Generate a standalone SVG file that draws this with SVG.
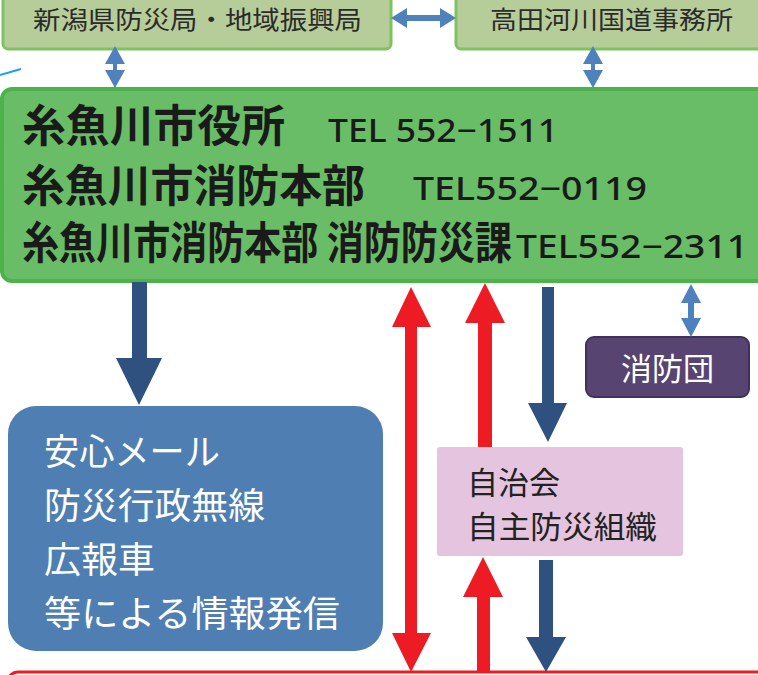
<svg xmlns="http://www.w3.org/2000/svg" width="758" height="675" viewBox="0 0 758 675">
<style>
.cjk{font-family:"Noto Sans CJK JP","Noto Sans",sans-serif}
.top{fill:#b6cd99;stroke:#7dc45f;stroke-width:3}
.toptxt{font-size:25px;fill:#2b2b2b}
.main{font-size:44px;font-weight:bold;fill:#1a1a1a}
.tel{font-size:32px;fill:#1a1a1a;font-family:"Noto Sans","DejaVu Sans",sans-serif;font-weight:500}
.wt{fill:#ffffff}
.navy{fill:#2f5180}
.red{fill:#ed1c24}
.lb{fill:#4f81bd}
</style>
<rect width="758" height="675" fill="#ffffff"/>
<g id="pref">
<rect class="top" x="3" y="-10" width="388" height="59" rx="5"/>
<text class="cjk toptxt" x="33" y="29" textLength="329" lengthAdjust="spacingAndGlyphs">新潟県防災局・地域振興局</text>
</g>
<g id="takada">
<rect class="top" x="456" y="-10" width="320" height="59" rx="5"/>
<text class="cjk toptxt" x="490" y="29" textLength="243" lengthAdjust="spacingAndGlyphs">高田河川国道事務所</text>
</g>
<g id="city">
<rect x="2" y="89" width="775" height="192" rx="10" fill="#69bd67" stroke="#4cb24a" stroke-width="4"/>
<text class="cjk main" x="22" y="142" textLength="263" lengthAdjust="spacingAndGlyphs">糸魚川市役所</text>
<text class="tel" x="328" y="142" textLength="230" lengthAdjust="spacingAndGlyphs">TEL 552−1511</text>
<text class="cjk main" x="22" y="202" textLength="343" lengthAdjust="spacingAndGlyphs">糸魚川市消防本部</text>
<text class="tel" x="413" y="200" textLength="234" lengthAdjust="spacingAndGlyphs">TEL552−0119</text>
<text class="cjk main" x="22" y="259" textLength="490" lengthAdjust="spacingAndGlyphs">糸魚川市消防本部 消防防災課</text>
<text class="tel" x="516" y="258" textLength="232" lengthAdjust="spacingAndGlyphs">TEL552−2311</text>
</g>
<g id="media">
<rect x="8" y="406" width="375" height="245" rx="28" fill="#4f7fb2"/>
<text class="cjk wt" font-size="36" x="44" y="465" textLength="176" lengthAdjust="spacingAndGlyphs">安心メール</text>
<text class="cjk wt" font-size="36" x="44" y="519" textLength="221" lengthAdjust="spacingAndGlyphs">防災行政無線</text>
<text class="cjk wt" font-size="36" x="44" y="573" textLength="111" lengthAdjust="spacingAndGlyphs">広報車</text>
<text class="cjk wt" font-size="36" x="44" y="627" textLength="296" lengthAdjust="spacingAndGlyphs">等による情報発信</text>
</g>
<g id="jichikai">
<rect x="437" y="447" width="246" height="109" rx="3" fill="#e4c4df"/>
<text class="cjk" font-size="31" fill="#222" x="467" y="494" textLength="93" lengthAdjust="spacingAndGlyphs">自治会</text>
<text class="cjk" font-size="31" fill="#222" x="467" y="538" textLength="190" lengthAdjust="spacingAndGlyphs">自主防災組織</text>
</g>
<g id="shobodan">
<rect x="586" y="337" width="163" height="60" rx="8" fill="#574470" stroke="#40305a" stroke-width="2"/>
<text class="cjk wt" font-size="31" x="621" y="380" textLength="93" lengthAdjust="spacingAndGlyphs">消防団</text>
</g>
<g id="residents">
<rect x="8" y="672" width="770" height="30" rx="10" fill="none" stroke="#ed1c24" stroke-width="3"/>
</g>
<g id="connectors">
<line x1="0" y1="75" x2="21" y2="69" stroke="#1aa3e8" stroke-width="2"/>
<polygon class="lb" points="391,18 407,8 407,15 440,15 440,8 456,18 440,28 440,21 407,21 407,28"/>
<polygon class="lb" points="115,46 125,64 117,64 117,70 125,70 115,88 105,70 113,70 113,64 105,64"/>
<polygon class="lb" points="593,46 603,64 595,64 595,70 603,70 593,88 583,70 591,70 591,64 583,64"/>
<polygon class="lb" points="691,284 701,303 694,303 694,318 701,318 691,337 681,318 688,318 688,303 681,303"/>
<polygon class="navy" points="132,282 147,282 147,358 162,358 139,405 116,358 132,358"/>
<polygon class="red" points="411,287 431,327 417,327 417,633 431,633 411,672 392,633 405,633 405,327 392,327"/>
<polygon class="red" points="485,283 505,323 492,323 492,447 478,447 478,323 465,323"/>
<polygon class="navy" points="542,287 554,287 554,403 567,403 548,442 528,403 542,403"/>
<polygon class="red" points="483,557 503,597 490,597 490,672 477,672 477,597 463,597"/>
<polygon class="navy" points="539,560 553,560 553,637 566,637 546,672 526,637 539,637"/>
</g>
</svg>
